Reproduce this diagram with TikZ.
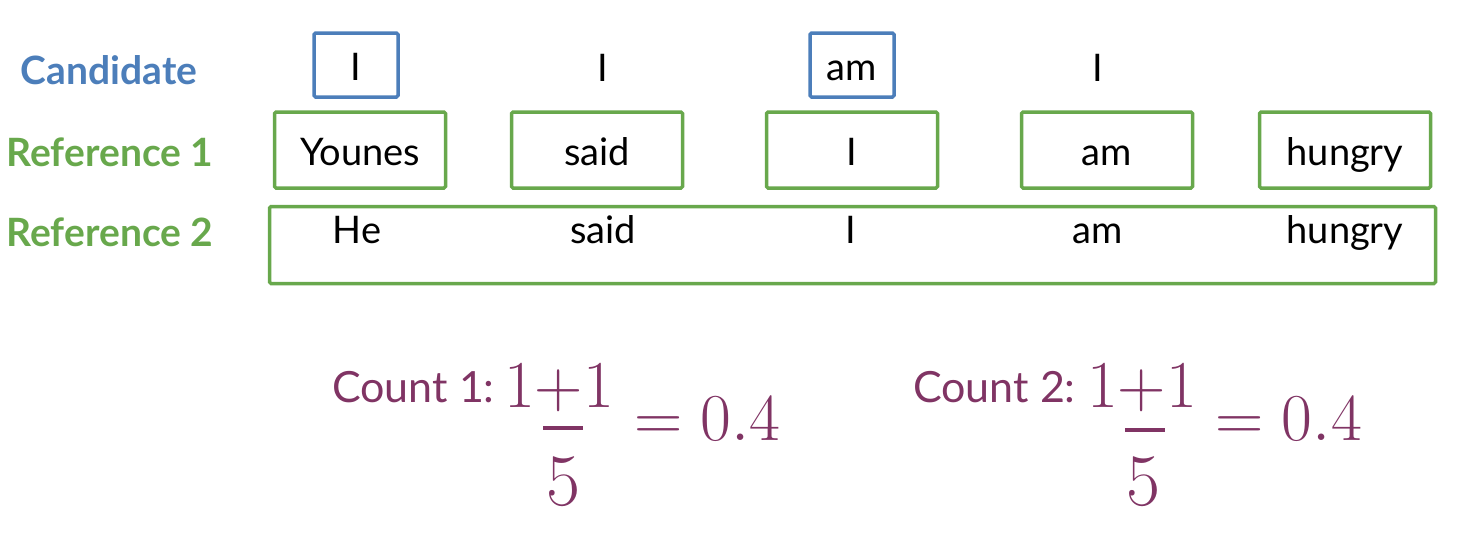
\documentclass[tikz,border=0pt]{standalone}
\usepackage{fix-cm}
\usepackage[no-math]{fontspec}
\setmainfont{Lato}
\usetikzlibrary{positioning}
\definecolor{candblue}{RGB}{76, 126, 186}
\definecolor{refgreen}{RGB}{104, 168, 76}
\definecolor{countpurple}{RGB}{128, 52, 100}

\begin{document}
\begin{tikzpicture}[
    x=1pt, y=-1pt,
    rowlabel/.style={font=\fontsize{39}{44}\selectfont\bfseries},
    word/.style={font=\fontsize{38}{42}\selectfont, text height=32pt, text depth=2pt, inner sep=0pt},
    candbox/.style={word, draw=candblue, line width=3.5pt, rounded corners=1.5pt, minimum width=84pt, minimum height=64pt},
    refbox/.style={word, draw=refgreen, line width=3.5pt, rounded corners=1.5pt, minimum width=171pt, minimum height=76pt},
    countlabel/.style={font=\fontsize{43}{48}\selectfont, text=countpurple, inner sep=0pt},
    mathpart/.style={text=countpurple, inner sep=0pt},
    fracbar/.style={countpurple, line width=4pt}
]
\useasboundingbox (0,0) rectangle (1476,546);

% Row labels
\node[rowlabel, text=candblue] (cand) at (109,70) {Candidate};
\node[rowlabel, text=refgreen] (refone) at (110,152) {Reference 1};
\node[rowlabel, text=refgreen] (reftwo) at (110,232) {Reference 2};

% Candidate
\node[candbox] (c1) at (356,65) {I};
\node[word] (c2) at (603,66) {I};
\node[candbox] (c3) at (852,65) {am};
\node[word] (c4) at (1098,66) {I};

% Reference 1
\node[refbox] (ra) at (360,150) {Younes};
\node[refbox] (rb) at (597,150) {said};
\node[refbox] (rc) at (852,150) {I};
\node[refbox] (rd) at (1107,150) {am};
\node[refbox] (re) at (1345,150) {hungry};

% Reference 2
\node[draw=refgreen, line width=3.5pt, rounded corners=1.5pt, minimum width=1166pt, minimum height=77pt] (rtwo) at (852.5,245) {};
\node[word] (sa) at (357,228) {He};
\node[word] (sb) at (603,228) {said};
\node[word] (sc) at (851,228) {I};
\node[word] (sd) at (1098,228) {am};
\node[word] (se) at (1345,228) {hungry};

% Count 1
\node[countlabel, anchor=base west] (cntone) at (332,402) {Count 1:};
\node[mathpart, anchor=base west, font=\fontsize{67}{72}\selectfont] (numone) at (504,407) {$1{+}1$};
\draw[fracbar] (543,428) -- (583,428);
\node[mathpart, anchor=base, font=\fontsize{74}{80}\selectfont] (denone) at (563,505) {$5$};
\node[mathpart, anchor=base west, font=\fontsize{67}{72}\selectfont] (resone) at (634,440) {$=0.4$};

% Count 2
\node[countlabel, anchor=base west] (cnttwo) at (913,402) {Count 2:};
\node[mathpart, anchor=base west, font=\fontsize{67}{72}\selectfont] (numtwo) at (1087,407) {$1{+}1$};
\draw[fracbar] (1125,430) -- (1165,430);
\node[mathpart, anchor=base, font=\fontsize{74}{80}\selectfont] (dentwo) at (1143,505) {$5$};
\node[mathpart, anchor=base west, font=\fontsize{67}{72}\selectfont] (restwo) at (1215,440) {$=0.4$};

\end{tikzpicture}
\end{document}
